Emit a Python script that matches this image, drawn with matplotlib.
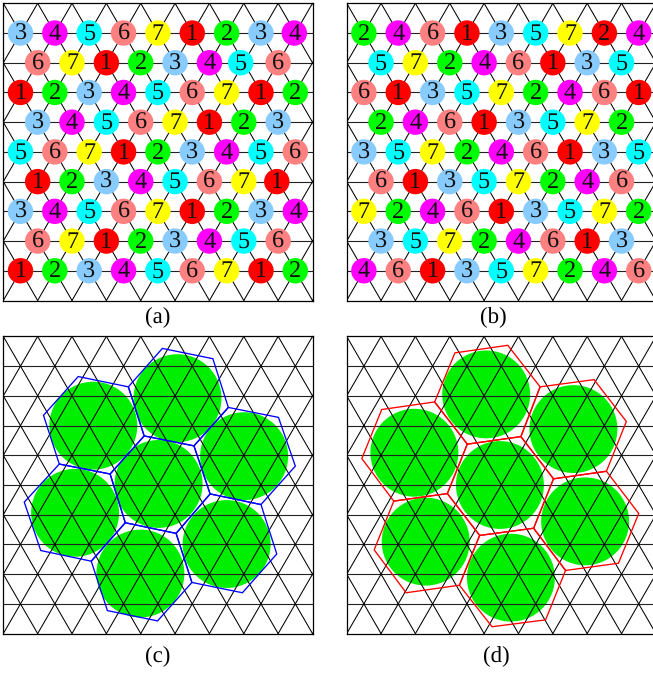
import numpy as np
import matplotlib
matplotlib.use("Agg")
import matplotlib.pyplot as plt
from matplotlib.patches import Circle, Polygon

plt.rcParams['font.family'] = ['Liberation Serif', 'DejaVu Serif']
plt.rcParams['text.hinting'] = 'no_hinting'

W, H = 653, 673
ROW = np.sqrt(3) / 2
N_COLS = 9
N_ROWS = 10

colors = {1: '#ff0000', 2: '#00ff00', 3: '#88ccff', 4: '#ff00ff',
          5: '#00ffff', 6: '#ff8080', 7: '#ffff00'}

# labels per grid row, top to bottom
labels_a = [
    [3, 4, 5, 6, 7, 1, 2, 3, 4],
    [6, 7, 1, 2, 3, 4, 5, 6],
    [1, 2, 3, 4, 5, 6, 7, 1, 2],
    [3, 4, 5, 6, 7, 1, 2, 3],
    [5, 6, 7, 1, 2, 3, 4, 5, 6],
    [1, 2, 3, 4, 5, 6, 7, 1],
    [3, 4, 5, 6, 7, 1, 2, 3, 4],
    [6, 7, 1, 2, 3, 4, 5, 6],
    [1, 2, 3, 4, 5, 6, 7, 1, 2],
]
labels_b = [
    [2, 4, 6, 1, 3, 5, 7, 2, 4],
    [5, 7, 2, 4, 6, 1, 3, 5],
    [6, 1, 3, 5, 7, 2, 4, 6, 1],
    [2, 4, 6, 1, 3, 5, 7, 2],
    [3, 5, 7, 2, 4, 6, 1, 3, 5],
    [6, 1, 3, 5, 7, 2, 4, 6],
    [7, 2, 4, 6, 1, 3, 5, 7, 2],
    [3, 5, 7, 2, 4, 6, 1, 3],
    [4, 6, 1, 3, 5, 7, 2, 4, 6],
]
# (row, index): x shift, colour label, where the picture departs from the lattice
shifts_a = {(0, 8): -0.03, (1, 6): -0.09, (5, 7): -0.04}
recolor_b = {(0, 7): 1}

discs_c = [(2.62, 2.60), (5.07, 1.80), (7.01, 3.49), (4.52, 4.30),
           (2.09, 5.14), (6.50, 6.05), (3.99, 6.91)]
hexes_c = [
    [(2.18, 1.17), (3.64, 1.47), (4.10, 2.90), (3.11, 4.01), (1.63, 3.72), (1.17, 2.30)],
    [(4.63, 0.35), (6.10, 0.65), (6.55, 2.07), (5.55, 3.19), (4.10, 2.90), (3.64, 1.47)],
    [(6.55, 2.07), (8.01, 2.36), (8.50, 3.78), (7.50, 4.90), (6.02, 4.59), (5.55, 3.19)],
    [(4.10, 2.90), (5.55, 3.19), (6.02, 4.59), (5.03, 5.74), (3.55, 5.43), (3.11, 4.01)],
    [(1.63, 3.72), (3.11, 4.01), (3.55, 5.43), (2.56, 6.55), (1.09, 6.24), (0.61, 4.83)],
    [(6.02, 4.59), (7.50, 4.90), (7.96, 6.34), (6.96, 7.47), (5.49, 7.17), (5.03, 5.74)],
    [(3.55, 5.43), (5.03, 5.74), (5.49, 7.17), (4.49, 8.29), (3.03, 7.99), (2.56, 6.55)],
]

discs_d = [(4.06, 1.69), (6.60, 2.70), (1.97, 3.39), (4.46, 4.33),
           (6.94, 5.39), (2.30, 5.98), (4.78, 7.03)]
hexes_d = [
    [(3.15, 0.48), (4.69, 0.26), (5.63, 1.47), (5.07, 2.92), (3.51, 3.14), (2.56, 1.91)],
    [(5.63, 1.47), (7.20, 1.26), (8.14, 2.48), (7.56, 3.93), (6.02, 4.15), (5.07, 2.92)],
    [(1.02, 2.13), (2.56, 1.91), (3.51, 3.14), (2.93, 4.58), (1.37, 4.80), (0.44, 3.56)],
    [(3.51, 3.14), (5.07, 2.92), (6.02, 4.15), (5.44, 5.59), (3.87, 5.80), (2.93, 4.58)],
    [(6.02, 4.15), (7.56, 3.93), (8.50, 5.16), (7.91, 6.61), (6.37, 6.82), (5.44, 5.59)],
    [(1.37, 4.80), (2.93, 4.58), (3.87, 5.80), (3.28, 7.25), (1.73, 7.47), (0.80, 6.22)],
    [(3.87, 5.80), (5.44, 5.59), (6.37, 6.82), (5.79, 8.26), (4.23, 8.46), (3.28, 7.25)],
]


def make_axes(fig, left, top):
    # panel box in pixels of the output picture
    ax = fig.add_axes([left / W, 1 - (top + 297.2) / H, 309.2 / W, 297.2 / H])
    ax.set_xlim(0, N_COLS)
    ax.set_ylim(N_ROWS * ROW, 0)
    ax.set_xticks([])
    ax.set_yticks([])
    for s in ax.spines.values():
        s.set_linewidth(0.9)
    return ax


def draw_grid(ax):
    for k in range(1, N_ROWS):
        ax.plot([0, N_COLS], [k * ROW, k * ROW], color='#222222', lw=0.8, zorder=2)
    for k in range(N_ROWS):
        offset = 0.5 * (k % 2)
        for i in range(N_COLS + 1):
            x = i + offset
            for dx in (-0.5, 0.5):
                ax.plot([x, x + dx], [k * ROW, (k + 1) * ROW], color='black', lw=0.75, zorder=2)


def draw_labels(ax, rows, shifts={}, recolor={}):
    for k, row in enumerate(rows):
        start = 0.5 if k % 2 == 0 else 1.0
        for i, lab in enumerate(row):
            x = start + i + shifts.get((k, i), 0)
            y = (k + 1) * ROW
            c = colors[recolor.get((k, i), lab)]
            ax.add_patch(Circle((x, y), 0.37, fc=c, ec='none', zorder=3))
            ax.text(x, y + 0.025, str(lab), fontsize=17.5, ha='center', va='center', color='#111111', zorder=4)


def draw_cover(ax, discs, hexes, edge):
    for c in discs:
        ax.add_patch(Circle(c, 1.28, fc='#00ee00', ec='none', zorder=1))
    for h in hexes:
        ax.add_patch(Polygon(h, closed=True, fill=False, ec=edge, lw=0.95, zorder=3))


fig = plt.figure(figsize=(W / 100, H / 100), dpi=100)

ax_a = make_axes(fig, 3.3, 3.3)
draw_grid(ax_a)
draw_labels(ax_a, labels_a, shifts=shifts_a)

ax_b = make_axes(fig, 346.7, 3.3)
draw_grid(ax_b)
draw_labels(ax_b, labels_b, recolor=recolor_b)

ax_c = make_axes(fig, 3.3, 336.4)
draw_grid(ax_c)
draw_cover(ax_c, discs_c, hexes_c, '#0000ff')

ax_d = make_axes(fig, 346.7, 336.4)
draw_grid(ax_d)
draw_cover(ax_d, discs_d, hexes_d, '#ff0000')

for txt, x, y in [('(a)', 157.7, 318), ('(b)', 493.5, 318), ('(c)', 157.7, 656.5), ('(d)', 496.7, 656.5)]:
    fig.text(x / W, 1 - y / H, txt, fontsize=16.5, ha='center', va='center')

fig.savefig('out.png', dpi=100)
